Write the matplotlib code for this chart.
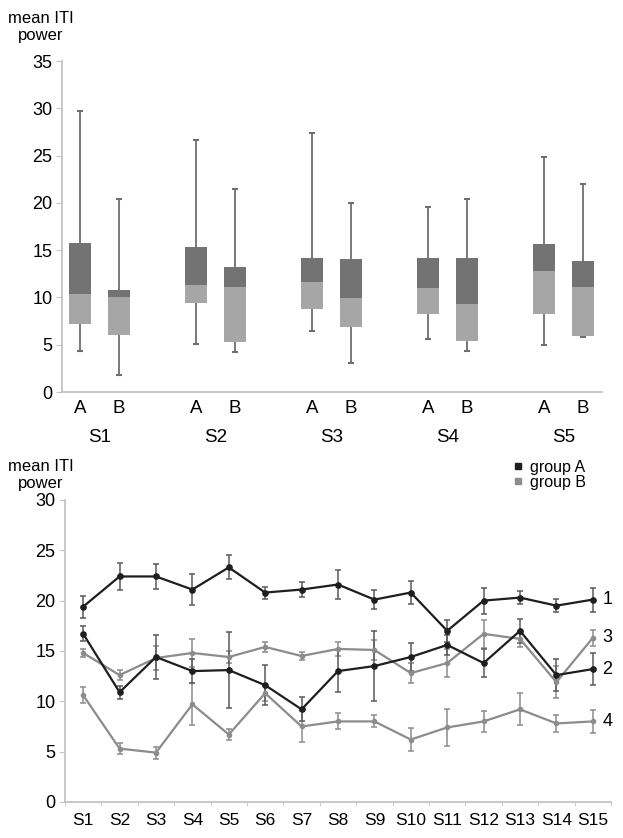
import matplotlib
matplotlib.use("Agg")
import matplotlib.pyplot as plt
from matplotlib.lines import Line2D

plt.rcParams['font.family'] = ['Liberation Sans', 'DejaVu Sans']

# ---- top panel: box plots per session, group A / B ----
sessions = ['S1', 'S2', 'S3', 'S4', 'S5']
a_low = [4.3, 5.1, 6.4, 5.6, 5.0]
a_q1 = [7.2, 9.4, 8.8, 8.3, 8.3]
a_med = [10.4, 11.3, 11.6, 11.0, 12.8]
a_q3 = [15.75, 15.3, 14.2, 14.2, 15.6]
a_high = [29.7, 26.6, 27.4, 19.6, 24.9]
b_low = [1.8, 4.2, 3.1, 4.3, 5.8]
b_q1 = [6.0, 5.3, 6.9, 5.4, 5.9]
b_med = [10.0, 11.1, 9.9, 9.3, 11.1]
b_q3 = [10.8, 13.2, 14.1, 14.2, 13.9]
b_high = [20.4, 21.5, 20.0, 20.4, 22.0]

# ---- bottom panel: mean ITI power over 15 sessions ----
days = ['S%d' % i for i in range(1, 16)]
line1 = [19.4, 22.4, 22.4, 21.1, 23.3, 20.8, 21.1, 21.6, 20.1, 20.8, 17.0, 20.0, 20.3, 19.5, 20.1]
err1 = [1.1, 1.3, 1.25, 1.5, 1.2, 0.6, 0.75, 1.45, 0.95, 1.1, 1.1, 1.3, 0.65, 0.65, 1.2]
line2 = [16.7, 10.9, 14.4, 13.0, 13.1, 11.6, 9.2, 13.0, 13.5, 14.4, 15.6, 13.8, 17.0, 12.6, 13.2]
err2 = [0.75, 0.65, 2.2, 1.2, 3.75, 2.0, 1.2, 2.1, 3.5, 1.4, 1.0, 1.4, 1.2, 1.6, 1.6]
line3 = [14.8, 12.6, 14.3, 14.8, 14.4, 15.4, 14.5, 15.2, 15.1, 12.8, 13.8, 16.7, 16.2, 11.9, 16.3]
err3 = [0.4, 0.5, 1.2, 1.4, 0.6, 0.5, 0.35, 0.7, 1.0, 1.0, 1.4, 1.4, 0.8, 1.6, 0.8]
line4 = [10.6, 5.3, 4.9, 9.7, 6.7, 10.8, 7.5, 8.0, 8.0, 6.2, 7.4, 8.0, 9.2, 7.8, 8.0]
err4 = [0.8, 0.55, 0.6, 2.1, 0.5, 0.75, 1.5, 0.8, 0.6, 1.1, 1.8, 1.05, 1.6, 0.85, 1.15]

DARK = '#737373'
LIGHT = '#a6a6a6'
WHISK = '#6e6e6e'
AXC = '#c4c4c4'
BLACK = '#1e1e1e'
GRAY = '#8c8c8c'

fig = plt.figure(figsize=(6.23, 8.38), dpi=100)

# =========================================================
# top panel
# =========================================================
ax1 = fig.add_axes([0.0995, 0.5322, 0.8663, 0.395])
off = 0.168
w = 0.19
for i in range(len(sessions)):
    for x, lo, q1, med, q3, hi in [(i - off, a_low[i], a_q1[i], a_med[i], a_q3[i], a_high[i]),
                                   (i + off, b_low[i], b_q1[i], b_med[i], b_q3[i], b_high[i])]:
        ax1.vlines(x, lo, hi, color=WHISK, lw=1.3, zorder=1)
        ax1.plot([x, x], [lo, hi], ls='none', marker='_', ms=5, mew=1.5, color=WHISK, zorder=1)
        ax1.bar(x, med - q1, bottom=q1, width=w, color=LIGHT, zorder=2)
        ax1.bar(x, q3 - med, bottom=med, width=w, color=DARK, zorder=2)

ax1.set_ylim(0, 35)
ax1.set_xlim(-0.323, 4.33)
ax1.set_yticks(range(0, 36, 5))
xt = []
xl = []
for i in range(len(sessions)):
    xt += [i - off, i + off]
    xl += ['A', 'B']
ax1.set_xticks(xt)
ax1.set_xticklabels(xl, fontsize=13.5)
ax1.tick_params(axis='x', length=0, pad=6)
ax1.tick_params(axis='y', length=4, color=AXC, labelsize=13, pad=3)
for i, s in enumerate(sessions):
    ax1.text(i, -0.138, s, transform=ax1.get_xaxis_transform(), ha='center', va='center', fontsize=13.5)
for sp in ['top', 'right']:
    ax1.spines[sp].set_visible(False)
for sp in ['left', 'bottom']:
    ax1.spines[sp].set_color(AXC)
    ax1.spines[sp].set_linewidth(1.3)

fig.text(41 / 623, 1 - 27 / 838, 'mean ITI\npower', ha='center', va='center', fontsize=12, linespacing=1.2)

# =========================================================
# bottom panel
# =========================================================
ax2 = fig.add_axes([0.1043, 0.043, 0.8764, 0.3604])
x = list(range(1, 16))
for vals, errs, col, ecol, ms in [(line3, err3, GRAY, GRAY, 3),
                                  (line4, err4, GRAY, GRAY, 3),
                                  (line2, err2, BLACK, '#5a5a5a', 3.8),
                                  (line1, err1, BLACK, '#5a5a5a', 3.8)]:
    ax2.errorbar(x, vals, yerr=errs, color=col, ecolor=ecol, lw=1.6, elinewidth=1.1,
                 capsize=2.5, capthick=1.1, marker='o', ms=ms, zorder=3)

for lab, vals in [('1', line1), ('2', line2), ('3', line3), ('4', line4)]:
    ax2.text(15.27, vals[-1], lab, ha='left', va='center', fontsize=13)

ax2.set_xlim(0.5, 15.5)
ax2.set_ylim(0, 30)
ax2.set_yticks(range(0, 31, 5))
ax2.set_xticks(x)
ax2.set_xticklabels(days, fontsize=12.5)
ax2.set_xticks([i + 0.5 for i in range(0, 16)], minor=True)
ax2.tick_params(axis='x', which='major', length=0, pad=8)
ax2.tick_params(axis='x', which='minor', length=3, color=AXC)
ax2.tick_params(axis='y', length=4, color=AXC, labelsize=13, pad=3)
for sp in ['top', 'right']:
    ax2.spines[sp].set_visible(False)
for sp in ['left', 'bottom']:
    ax2.spines[sp].set_color(AXC)
    ax2.spines[sp].set_linewidth(1.3)

handles = [Line2D([], [], ls='none', marker='s', ms=5, color=BLACK),
           Line2D([], [], ls='none', marker='s', ms=5, color=GRAY)]
fig.legend(handles, ['group A', 'group B'], loc='upper left', bbox_to_anchor=(512 / 623, 1 - 460 / 838),
           frameon=False, fontsize=11.5, handlelength=0.8, handletextpad=0.3, labelspacing=0.0,
           borderpad=0, borderaxespad=0)

fig.text(41 / 623, 1 - 475 / 838, 'mean ITI\npower', ha='center', va='center', fontsize=12, linespacing=1.2)

fig.savefig('out.png', dpi=100)
